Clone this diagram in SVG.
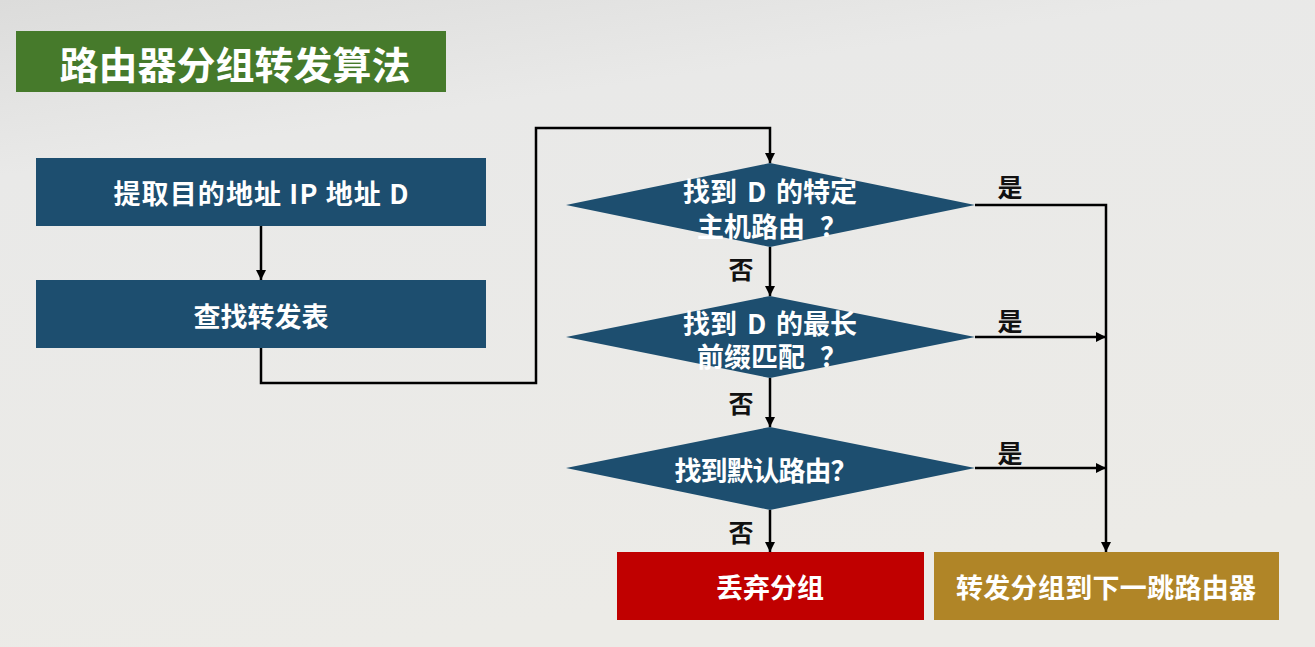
<svg xmlns="http://www.w3.org/2000/svg" width="1315" height="647" viewBox="0 0 1315 647">
<defs>
<linearGradient id="bg" x1="0" y1="0" x2="0.3" y2="1">
<stop offset="0" stop-color="#dcdcdb"/>
<stop offset="0.25" stop-color="#e9e9e8"/>
<stop offset="1" stop-color="#ecebe7"/>
</linearGradient>
<marker id="arr" viewBox="0 0 10 10" refX="10" refY="5" markerWidth="10" markerHeight="10" markerUnits="userSpaceOnUse" orient="auto">
<path d="M0,0 L10,5 L0,10 z" fill="#000"/>
</marker>
<style>
.t{font-family:"Noto Sans CJK SC","Noto Sans",sans-serif;font-weight:bold;fill:#fff;text-anchor:middle;dominant-baseline:central;font-size:27px}
.s{text-anchor:start}
.l{font-family:"Noto Sans CJK SC","Noto Sans",sans-serif;font-weight:bold;fill:#111;font-size:25px;text-anchor:middle;dominant-baseline:central}
.c{fill:none;stroke:#000;stroke-width:2.5}
.blue{fill:#1d4e6f}
</style>
</defs>
<rect width="1315" height="647" fill="url(#bg)"/>
<g id="title">
<rect x="16" y="31" width="430" height="61" fill="#467a2b"/>
<text class="t" x="235" y="62" style="font-size:38px" textLength="351" lengthAdjust="spacingAndGlyphs">路由器分组转发算法</text>
</g>
<g id="n1">
<rect class="blue" x="36" y="158" width="450" height="68"/>
<text class="t" x="261" y="192" textLength="295">提取目的地址 IP 地址 D</text>
</g>
<g id="n2">
<rect class="blue" x="36" y="280" width="450" height="68"/>
<text class="t" x="261" y="315">查找转发表</text>
</g>
<g id="d1">
<polygon class="blue" points="566,205 770,163 975,205 770,247"/>
<text class="t s"><tspan x="683" y="190">找到</tspan><tspan x="747" y="190">D</tspan><tspan x="776" y="190">的特定</tspan><tspan x="697" y="225">主机路由</tspan><tspan x="820" y="225">？</tspan></text>
</g>
<g id="d2">
<polygon class="blue" points="566,337 770,296 975,337 770,378"/>
<text class="t s"><tspan x="683" y="322">找到</tspan><tspan x="747" y="322">D</tspan><tspan x="776" y="322">的最长</tspan><tspan x="697" y="355">前缀匹配</tspan><tspan x="820" y="355">？</tspan></text>
</g>
<g id="d3">
<polygon class="blue" points="566,468 770,427 975,468 770,510"/>
<text class="t" x="766" y="469" textLength="183">找到默认路由？</text>
</g>
<g id="n3">
<rect x="617" y="552" width="307" height="68" fill="#c00000"/>
<text class="t" x="770" y="586">丢弃分组</text>
</g>
<g id="n4">
<rect x="934" y="552" width="345" height="68" fill="#b08527"/>
<text class="t" x="1106" y="586" textLength="300">转发分组到下一跳路由器</text>
</g>
<g id="connectors">
<path class="c" d="M261,226 V280" marker-end="url(#arr)"/>
<path class="c" d="M261,348 V383 H536 V128 H770 V163" marker-end="url(#arr)"/>
<path class="c" d="M770,247 V296" marker-end="url(#arr)"/>
<path class="c" d="M770,378 V427" marker-end="url(#arr)"/>
<path class="c" d="M770,510 V552" marker-end="url(#arr)"/>
<path class="c" d="M975,205 H1106 V552" marker-end="url(#arr)"/>
<path class="c" d="M975,337 H1106" marker-end="url(#arr)"/>
<path class="c" d="M975,468 H1106" marker-end="url(#arr)"/>
<text class="l" x="741" y="268">否</text>
<text class="l" x="741" y="402">否</text>
<text class="l" x="741" y="531">否</text>
<text class="l" x="1010" y="186">是</text>
<text class="l" x="1010" y="320">是</text>
<text class="l" x="1010" y="452">是</text>
</g>
</svg>
